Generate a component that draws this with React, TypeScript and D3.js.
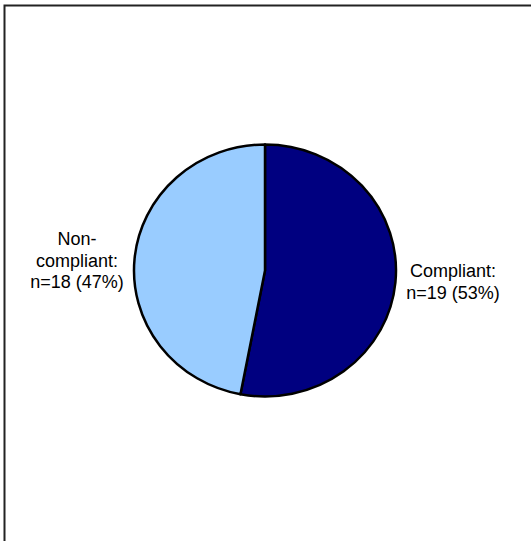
import React from "react";
import * as d3 from "d3";

const categories = ["Compliant", "Non-compliant"];
const counts = [19, 18];
const percents = [53, 47];
const colors = ["#000080", "#99CCFF"];

export default function App() {
  const W = 531, H = 541;
  const cx = 265, cy = 270.5, rx = 131, ry = 126;
  const pie = d3.pie<number>().sort(null).value((d) => d);
  const arcs = pie(percents);
  const arc = d3.arc<d3.PieArcDatum<number>>().innerRadius(0).outerRadius(rx);
  const font = "'Liberation Sans', Arial, sans-serif";
  return (
    <svg width={W} height={H} style={{ position: "absolute", left: 0, top: 0, background: "#fff" }}>
      <rect x={0} y={0} width={W} height={H} fill="#fff" />
      <path d={`M4.5,${H} V5.5 H${W}`} fill="none" stroke="#222" strokeWidth={2} />
      <g transform={`translate(${cx},${cy}) scale(1,${ry / rx})`}>
        {arcs.map((a, i) => (
          <path
            key={categories[i]}
            d={arc(a) || ""}
            fill={colors[i]}
            stroke="#000"
            strokeWidth={2.5}
            vectorEffect="non-scaling-stroke"
            strokeLinejoin="round"
          />
        ))}
      </g>
      <g fontFamily={font} fontSize={18} fill="#000" textAnchor="middle">
        <text x={453} y={277}>{categories[0]}:</text>
        <text x={453} y={298.5}>{`n=${counts[0]} (${percents[0]}%)`}</text>
        <text x={77} y={245}>Non-</text>
        <text x={77} y={266.5}>compliant:</text>
        <text x={77} y={288}>{`n=${counts[1]} (${percents[1]}%)`}</text>
      </g>
    </svg>
  );
}
